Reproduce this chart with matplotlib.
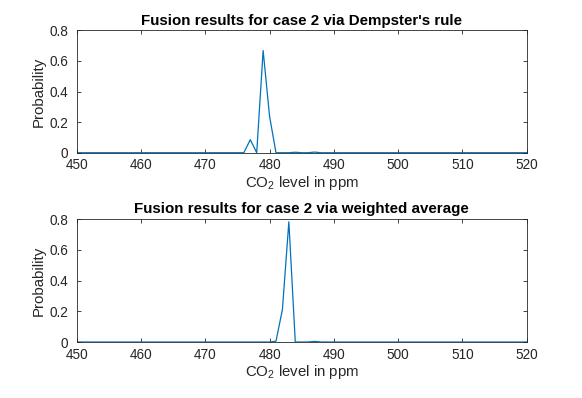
import numpy as np
import matplotlib

matplotlib.use("Agg")
import matplotlib.pyplot as plt

plt.rcParams["font.family"] = ["Liberation Sans", "DejaVu Sans"]
plt.rcParams["mathtext.fontset"] = "custom"
plt.rcParams["mathtext.rm"] = "Liberation Sans"

co2_ppm = np.arange(450, 521)

# probability per CO2 level, 450..520 ppm
dempster = [
    0, 0, 0, 0, 0, 0, 0, 0, 0, 0,            # 450-459
    0, 0, 0, 0, 0, 0, 0, 0, 0, 0,            # 460-469
    0, 0, 0, 0, 0, 0, 0, 0.085, 0.0, 0.668,  # 470-479
    0.238, 0.0, 0, 0, 0.003, 0, 0, 0.004, 0, 0,  # 480-489
    0, 0, 0, 0, 0, 0, 0, 0, 0, 0,            # 490-499
    0, 0, 0, 0, 0, 0, 0, 0, 0, 0,            # 500-509
    0, 0, 0, 0, 0, 0, 0, 0, 0, 0, 0,         # 510-520
]
weighted = [
    0, 0, 0, 0, 0, 0, 0, 0, 0, 0,            # 450-459
    0, 0, 0, 0, 0, 0, 0, 0, 0, 0,            # 460-469
    0, 0, 0, 0, 0, 0, 0, 0, 0, 0,            # 470-479
    0, 0.005, 0.212, 0.782, 0.0, 0, 0, 0.004, 0, 0,  # 480-489
    0, 0, 0, 0, 0, 0, 0, 0, 0, 0,            # 490-499
    0, 0, 0, 0, 0, 0, 0, 0, 0, 0,            # 500-509
    0, 0, 0, 0, 0, 0, 0, 0, 0, 0, 0,         # 510-520
]

titles = [
    "Fusion results for case 2 via Dempster's rule",
    "Fusion results for case 2 via weighted average",
]
x_ticks = np.arange(450, 521, 10)
y_ticks = [0, 0.2, 0.4, 0.6, 0.8]
y_labels = ["0", "0.2", "0.4", "0.6", "0.8"]

fig = plt.figure(figsize=(5.82, 3.98), dpi=100)
ax_top = fig.add_axes([0.1318, 0.6163, 0.7732, 0.3075])
ax_bot = fig.add_axes([0.1318, 0.1407, 0.7732, 0.3090])

for ax, series, title in zip([ax_top, ax_bot], [dempster, weighted], titles):
    ax.plot(co2_ppm, series, color="#0072BD", lw=0.9)
    ax.set_xlim(450, 520)
    ax.set_ylim(0, 0.8)
    ax.set_xticks(x_ticks)
    ax.set_yticks(y_ticks)
    ax.set_yticklabels(y_labels)
    ax.tick_params(direction="in", length=3, width=0.6, labelsize=9.8,
                   colors="#262626", top=True, right=True)
    ax.tick_params(axis="y", pad=6)
    ax.tick_params(axis="x", pad=4)
    for sp in ax.spines.values():
        sp.set_linewidth(0.6)
        sp.set_color("#262626")
    ax.set_title(title, fontsize=10.9, fontweight="bold", pad=4)
    ax.set_xlabel("CO$_2$ level in ppm", fontsize=10.8, labelpad=1, color="#262626")
    ax.set_ylabel("Probability", fontsize=10.8, labelpad=2.5, color="#262626")

fig.savefig("out.png", dpi=100)
